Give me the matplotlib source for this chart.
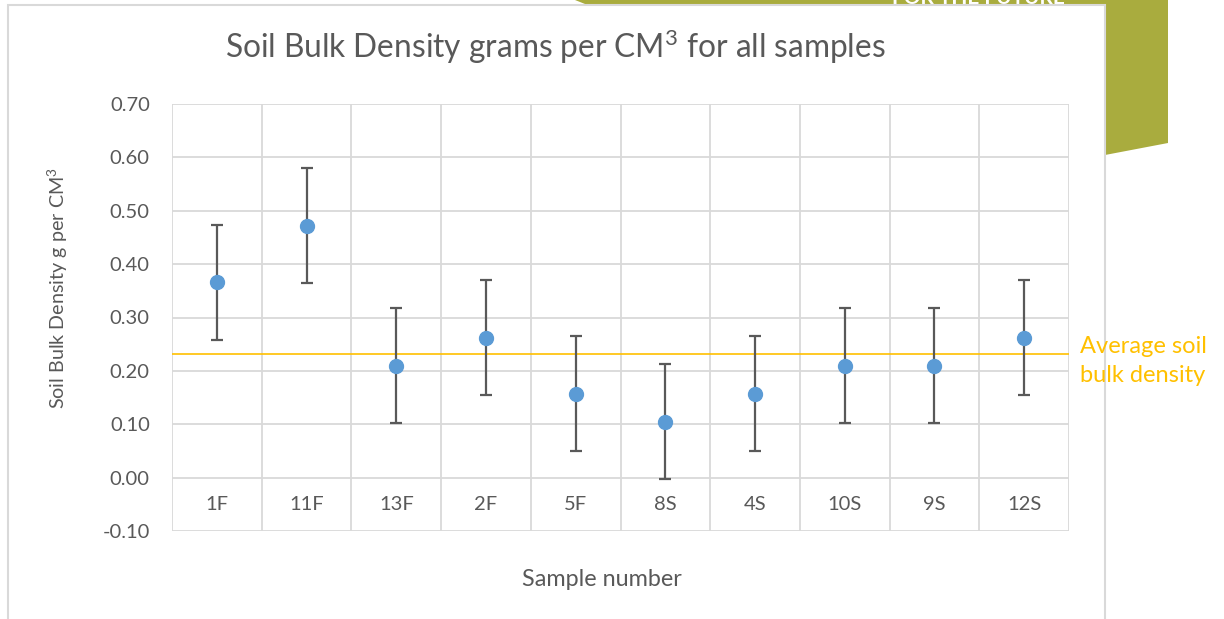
import numpy as np
import matplotlib.pyplot as plt
from matplotlib.patches import Polygon, Rectangle

samples = ['1F', '11F', '13F', '2F', '5F', '8S', '4S', '10S', '9S', '12S']
density = [0.366, 0.472, 0.210, 0.262, 0.157, 0.105, 0.157, 0.210, 0.210, 0.262]
err = [0.108, 0.108, 0.108, 0.108, 0.108, 0.108, 0.108, 0.108, 0.108, 0.108]
average = 0.232
y_ticks = [-0.10, 0.00, 0.10, 0.20, 0.30, 0.40, 0.50, 0.60, 0.70]

plt.rcParams['font.family'] = ['Lato', 'DejaVu Sans']
plt.rcParams['mathtext.fontset'] = 'custom'
plt.rcParams['mathtext.rm'] = 'Lato'
plt.rcParams['mathtext.it'] = 'Lato'
txt = '#595959'
grid = '#D9D9D9'

W, H = 1224, 619
fig = plt.figure(figsize=(W / 100, H / 100), dpi=100)

def px(x, y):
    return (x / W, 1 - y / H)

# olive shape behind the chart
green = Polygon([px(575, 0), px(1168, 0), px(1168, 143), px(1105, 155),
                 px(1105, 60), px(590, 6)], closed=True,
                facecolor='#A9AC3E', edgecolor='none', transform=fig.transFigure, zorder=0)
fig.patches.append(green)
fig.text(978 / W, 1 + 2 / H, 'FOR THE FUTURE', color='white', fontsize=15, fontweight='bold',
         ha='center', va='center', zorder=0.5)

# chart area
frame = Rectangle(px(8, 640), 1097 / W, 635 / H, facecolor='white', edgecolor=grid,
                  linewidth=1.5, transform=fig.transFigure, zorder=1)
fig.patches.append(frame)

ax = fig.add_axes([172 / W, 1 - 531 / H, (1069 - 172) / W, (531 - 104) / H], zorder=2)
ax.set_facecolor('none')
x = np.arange(1, len(samples) + 1)
ax.set_xlim(0.5, len(samples) + 0.5)
ax.set_ylim(-0.10, 0.70)

for b in np.arange(0.5, len(samples) + 1):
    ax.axvline(b, color=grid, lw=1.3, zorder=1)
for t in y_ticks:
    ax.axhline(t, color=grid, lw=1.3, zorder=1)
for s in ax.spines.values():
    s.set_visible(False)

ax.errorbar(x, density, yerr=err, fmt='o', color='#5B9BD5', ms=10,
            ecolor='#595959', elinewidth=1.6, capsize=4.5, capthick=1.6, zorder=3)
ax.axhline(average, color='#FFC000', lw=1.2, zorder=2)

ax.set_yticks(y_ticks)
ax.set_yticklabels([f'{t:.2f}' for t in y_ticks], fontsize=14.5, color=txt)
ax.tick_params(axis='y', length=0, pad=16)
ax.set_xticks([])
for xi, s in zip(x, samples):
    ax.text(xi, -0.05, s, ha='center', va='center', fontsize=14.5, color=txt)

# axis titles
fig.text(602 / W, 1 - 580 / H, 'Sample number', fontsize=16.8, color=txt,
         ha='center', va='center', zorder=3)
fig.text(58 / W, 1 - 288 / H, 'Soil Bulk Density g per CM$^{3}$', fontsize=14.2, color=txt,
         rotation=90, ha='center', va='center', zorder=3)
fig.text(555 / W, 1 - 47 / H, 'Soil Bulk Density grams per CM$^{3}$ for all samples',
         fontsize=22.8, color=txt, ha='center', va='center', zorder=3)
fig.text(1080 / W, 1 - 361 / H, 'Average soil\nbulk density', fontsize=17,
         color='#FFC000', ha='left', va='center', linespacing=1.45, zorder=3)

fig.savefig('out.png', dpi=100)
